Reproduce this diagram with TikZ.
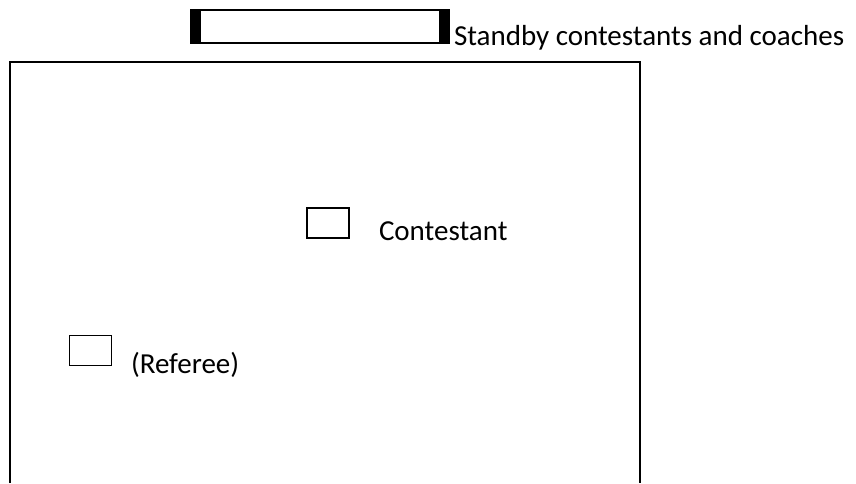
\documentclass[tikz,border=0pt]{standalone}
\usepackage{fontspec}
\setmainfont{Carlito}
\usetikzlibrary{positioning}

\begin{document}
\begin{tikzpicture}[x=1pt, y=1pt,
    spot/.style={draw, line width=1.6pt, minimum width=42pt,
                 minimum height=30pt, inner sep=0pt},
    lbl/.style={inner sep=0pt, font=\fontsize{29}{34}\selectfont}
]
    \useasboundingbox (0,0) rectangle (856,483);
    % playing area, open at the bottom
    \draw[line width=2.4pt] (10,0) -- (10,421) -- (640,421) -- (640,0);
    % bench
    \node[draw, line width=1.6pt, minimum width=258pt, minimum height=33pt,
          inner sep=0pt] (bench) at (320,456.5) {};
    \fill (bench.north west) rectangle ([xshift=11pt]bench.south west);
    \fill (bench.north east) rectangle ([xshift=-11pt]bench.south east);
    \node[lbl, anchor=base west] (benchlbl)
        at ([xshift=4pt, yshift=-2pt]bench.south east)
        {Standby contestants and coaches};
    % contestant
    \node[spot] (player) at (328,260) {};
    \node[lbl, anchor=base west] (playerlbl)
        at ([xshift=29pt, yshift=-2pt]player.south east) {Contestant};
    % referee
    \node[spot] (referee) at (90.5,132.5) {};
    \node[lbl, anchor=base west] (refereelbl)
        at ([xshift=18.5pt, yshift=-7.5pt]referee.south east) {(Referee)};
\end{tikzpicture}
\end{document}
